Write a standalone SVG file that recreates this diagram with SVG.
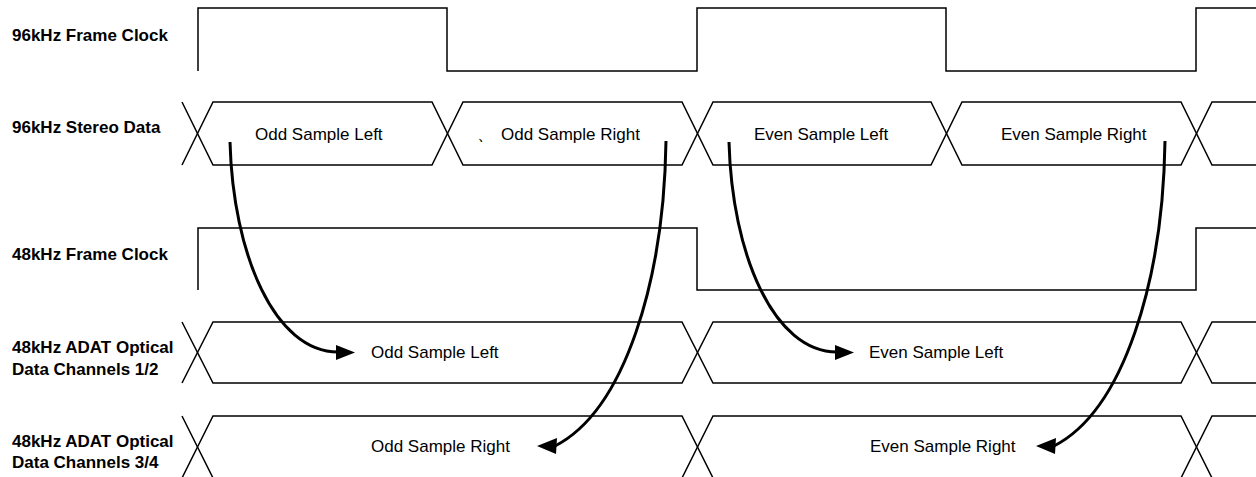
<svg xmlns="http://www.w3.org/2000/svg" width="1256" height="477" viewBox="0 0 1256 477">
<style>
.sig{fill:none;stroke:#000;stroke-width:1.5;stroke-linejoin:miter}
.lbl{font-family:"Liberation Sans",Arial,sans-serif;font-size:17px;font-weight:bold;fill:#000}
.txt{font-family:"Liberation Sans",Arial,sans-serif;font-size:17px;fill:#000}
.arr{fill:none;stroke:#000;stroke-width:3}
.head{fill:#000;stroke:none}
</style>
<rect width="1256" height="477" fill="#fff"/>
<g id="clk96">
<text class="lbl" x="12" y="41">96kHz Frame Clock</text>
<path class="sig" d="M198,71 L198,8 L447,8 L447,71 L697,71 L697,8 L946,8 L946,71 L1196,71 L1196,8 L1256,8"/>
</g>
<g id="data96">
<text class="lbl" x="12" y="133">96kHz Stereo Data</text>
<path class="sig" d="M182,102 L213,165 L432,165 L463,102 L682,102 L713,165 L931,165 L962,102 L1181,102 L1212,165 L1256,165"/>
<path class="sig" d="M182,165 L213,102 L432,102 L463,165 L682,165 L713,102 L931,102 L962,165 L1181,165 L1212,102 L1256,102"/>
<text class="txt" x="255" y="140">Odd Sample Left</text>
<text class="txt" x="477" y="140" font-family="'Noto Sans CJK SC',sans-serif">、</text>
<text class="txt" x="501" y="140">Odd Sample Right</text>
<text class="txt" x="754" y="140">Even Sample Left</text>
<text class="txt" x="1001" y="140">Even Sample Right</text>
</g>
<g id="clk48">
<text class="lbl" x="12" y="260">48kHz Frame Clock</text>
<path class="sig" d="M198,290 L198,228 L697,228 L697,290 L1196,290 L1196,228 L1256,228"/>
</g>
<g id="adat12">
<text class="lbl" x="12" y="353">48kHz ADAT Optical</text>
<text class="lbl" x="12" y="375">Data Channels 1/2</text>
<path class="sig" d="M182,322 L213,383 L682,383 L713,322 L1181,322 L1212,383 L1256,383"/>
<path class="sig" d="M182,383 L213,322 L682,322 L713,383 L1181,383 L1212,322 L1256,322"/>
<text class="txt" x="371" y="358">Odd Sample Left</text>
<text class="txt" x="869" y="358">Even Sample Left</text>
</g>
<g id="adat34">
<text class="lbl" x="12" y="447">48kHz ADAT Optical</text>
<text class="lbl" x="12" y="468">Data Channels 3/4</text>
<path class="sig" d="M182,416 L213,478 L682,478 L713,416 L1181,416 L1212,478 L1256,478"/>
<path class="sig" d="M182,478 L213,416 L682,416 L713,478 L1181,478 L1212,416 L1256,416"/>
<text class="txt" x="371" y="452">Odd Sample Right</text>
<text class="txt" x="870" y="452">Even Sample Right</text>
</g>
<g id="connectors">
<path class="arr" d="M230,142 C233,255 275,352 338,352"/>
<polygon class="head" points="355,352.5 336,345 336,360"/>
<path class="arr" d="M666,141 C664,280 625,410 555,446"/>
<polygon class="head" points="537,446 557,438 556,454"/>
<path class="arr" d="M729,142 C732,255 774,352 837,352"/>
<polygon class="head" points="854,352.5 835,345 835,360"/>
<path class="arr" d="M1165,141 C1163,280 1124,410 1054,446"/>
<polygon class="head" points="1036,446 1056,438 1055,454"/>
</g>
</svg>
